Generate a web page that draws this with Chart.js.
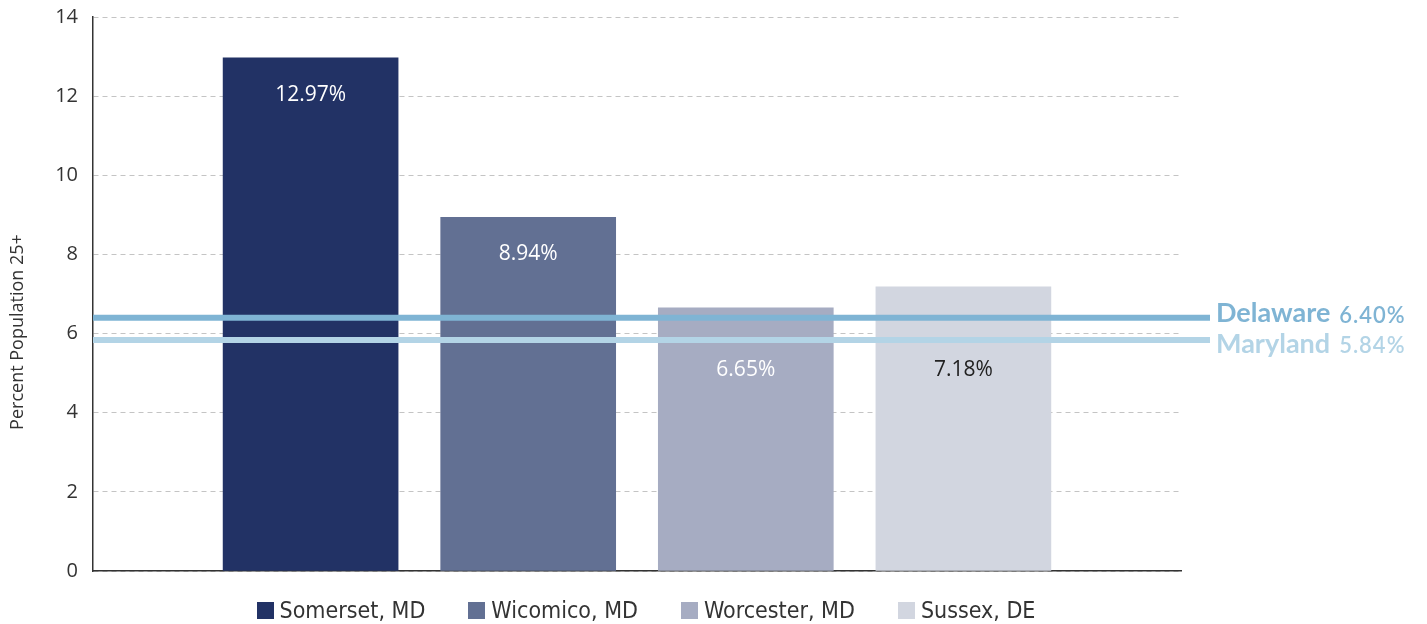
<!DOCTYPE html>
<html>
<head>
<meta charset="utf-8">
<script src="https://cdn.jsdelivr.net/npm/chart.js@4"></script>
<style>
  html, body { margin: 0; padding: 0; background: #fff; }
  #wrap { width: 1427px; height: 624px; position: relative; }
  #legend {
    position: absolute; left: 93px; width: 1088px; top: 597px; padding-left: 18px; box-sizing: border-box;
    display: flex; justify-content: center; align-items: center;
    font-family: 'DejaVu Sans Condensed', 'DejaVu Sans'; font-stretch: condensed;
    font-size: 23px; color: #333;
  }
  #legend .item { display: flex; align-items: center; margin-right: 43px; }
  #legend .item:last-child { margin-right: 0; }
  #legend .box { width: 17px; height: 17px; margin-right: 6px; }
</style>
</head>
<body>
<div id="wrap">
  <canvas id="chart"></canvas>
  <div id="legend"></div>
</div>
<script>
const counties = ["Somerset, MD", "Wicomico, MD", "Worcester, MD", "Sussex, DE"];
const percents = [12.97, 8.94, 6.65, 7.18];
const barColors = ["#223265", "#627093", "#a6acc2", "#d2d6e0"];
const labelColors = ["#ffffff", "#ffffff", "#ffffff", "#222222"];

const stateNames = ["Delaware", "Maryland"];
const stateValues = [6.40, 5.84];
const stateColors = ["#7fb4d4", "#b3d4e6"];
const stateLabelNudge = [-3, 5];

const yTicks = [0, 2, 4, 6, 8, 10, 12, 14];

// reference lines for the two states + their labels on the right
const stateLines = {
  id: "stateLines",
  afterDatasetsDraw(chart) {
    const { ctx, chartArea, scales } = chart;
    ctx.save();
    stateValues.forEach((v, i) => {
      const y = scales.y.getPixelForValue(v);
      ctx.strokeStyle = stateColors[i];
      ctx.lineWidth = 6;
      ctx.beginPath();
      ctx.moveTo(chartArea.left, y);
      ctx.lineTo(chartArea.right + 29, y);
      ctx.stroke();

      const ty = y + stateLabelNudge[i];
      ctx.fillStyle = stateColors[i];
      ctx.textBaseline = "middle";
      ctx.textAlign = "left";
      ctx.font = "bold 27px Lato";
      ctx.fillText(stateNames[i], chartArea.right + 35, ty - 1);
      const w = ctx.measureText(stateNames[i]).width;
      ctx.font = "600 22px Lato";
      ctx.letterSpacing = "1px";
      ctx.fillText(stateValues[i].toFixed(2) + "%", chartArea.right + 35 + w + 9, ty + 1);
      ctx.letterSpacing = "0px";
    });
    ctx.restore();
  }
};

// value labels inside bars, moved below the state lines when they would hit them
const barLabels = {
  id: "barLabels",
  afterDraw(chart) {
    const { ctx, scales } = chart;
    const meta = chart.getDatasetMeta(0);
    const topLine = scales.y.getPixelForValue(Math.max(...stateValues));
    const lowLine = scales.y.getPixelForValue(Math.min(...stateValues));
    ctx.save();
    ctx.font = "500 21px 'Open Sans'";
    ctx.textAlign = "center";
    ctx.textBaseline = "middle";
    meta.data.forEach((bar, i) => {
      let y = bar.y + 37;
      if (y > topLine - 20) y = lowLine + 30;
      ctx.fillStyle = labelColors[i];
      ctx.fillText(percents[i].toFixed(2) + "%", bar.x, y);
    });
    ctx.restore();

    // y axis title
    ctx.save();
    ctx.translate(18, 332);
    ctx.rotate(-Math.PI / 2);
    ctx.font = "18px 'Open Sans'";
    ctx.fillStyle = "#333";
    ctx.textAlign = "center";
    ctx.textBaseline = "middle";
    ctx.fillText("Percent Population 25+", 0, 0);
    ctx.restore();
  }
};

new Chart(document.getElementById("chart"), {
  type: "bar",
  data: {
    datasets: [{
      data: percents.map((v, i) => ({ x: i + 1, y: v })),
      backgroundColor: barColors,
      barThickness: 175
    }]
  },
  options: {
    responsive: true,
    maintainAspectRatio: false,
    animation: false,
    layout: { padding: { top: 17, right: 246, left: 0, bottom: 53 } },
    scales: {
      x: {
        type: "linear",
        min: 0,
        max: 5,
        offset: false,
        ticks: { display: false },
        grid: { display: false, drawTicks: false },
        border: { display: true, color: "#333", width: 1.5 }
      },
      y: {
        min: 0,
        max: 14,
        afterBuildTicks(scale) {
          scale.ticks = yTicks.map(v => ({ value: v }));
        },
        afterFit(scale) {
          scale.width = 93;
          scale.paddingTop = 0;
          scale.paddingBottom = 0;
        },
        ticks: {
          color: "#333",
          padding: 15,
          font: { family: "'Open Sans'", size: 20 }
        },
        grid: { color: "#c4c4c4", drawTicks: false, lineWidth: 1 },
        border: { display: true, color: "#333", width: 1.5, dash: [5, 4] }
      }
    },
    plugins: {
      legend: { display: false },
      tooltip: { enabled: false }
    }
  },
  plugins: [stateLines, barLabels]
});

// legend below the chart, built from the same arrays
const legend = document.getElementById("legend");
counties.forEach((c, i) => {
  const item = document.createElement("div");
  item.className = "item";
  item.innerHTML = `<span class="box" style="background:${barColors[i]}"></span><span>${c}</span>`;
  legend.appendChild(item);
});
</script>
</body>
</html>
